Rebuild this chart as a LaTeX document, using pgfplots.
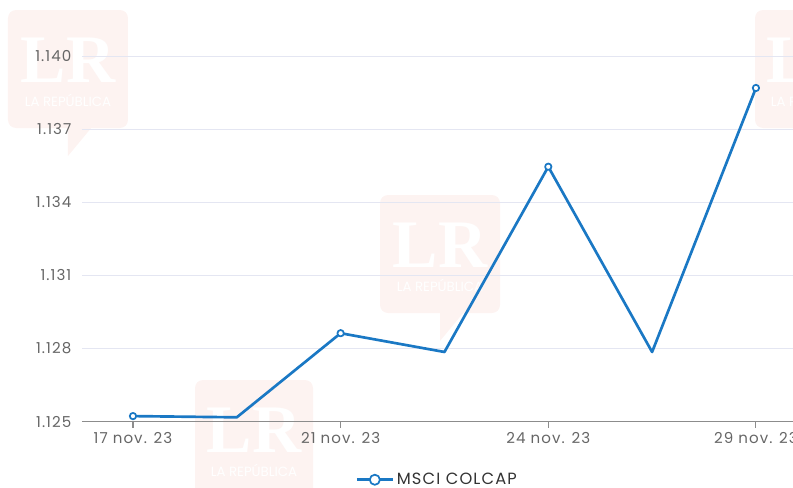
\documentclass[border=0pt]{standalone}
\usepackage{fontspec}
\setmainfont{Poppins}[LetterSpace=7]
\newfontfamily\lrfont{Liberation Serif}
\newfontfamily\wmfont{Poppins}
\usepackage{pgfplots}
\pgfplotsset{compat=1.18}
\definecolor{serie}{RGB}{26,120,196}
\definecolor{gridc}{RGB}{228,230,242}
\definecolor{axisgrey}{RGB}{140,140,140}
\definecolor{ticklab}{RGB}{102,102,102}
\definecolor{legtext}{RGB}{51,51,51}
\definecolor{wm}{RGB}{253,243,241}
\begin{document}
\begin{tikzpicture}
\useasboundingbox (-61.5pt,-49.025pt) rectangle (533.25pt,316.275pt);
\clip (-61.5pt,-49.025pt) rectangle (533.25pt,316.275pt);
\begin{scope}[x=0.75pt,y=-0.75pt,shift={(-82,-421.7)}]
  % watermark 1
  \fill[wm, rounded corners=6] (8,10) rectangle (128,128);
  \fill[wm] (68,127) -- (92,127) -- (68,156) -- cycle;
  \node[white, font=\lrfont\bfseries\fontsize{51}{51}\selectfont] at (68,60) {LR};
  \node[white, font=\wmfont\fontsize{10}{10}\selectfont] at (68,100) {LA REPÚBLICA};
  % watermark 2
  \fill[wm, rounded corners=6] (380,195) rectangle (500,313);
  \fill[wm] (440,312) -- (464,312) -- (440,341) -- cycle;
  \node[white, font=\lrfont\bfseries\fontsize{51}{51}\selectfont] at (440,245) {LR};
  \node[white, font=\wmfont\fontsize{10}{10}\selectfont] at (440,285) {LA REPÚBLICA};
  % watermark 3
  \fill[wm, rounded corners=6] (195,380) rectangle (313,498);
  \node[white, font=\lrfont\bfseries\fontsize{51}{51}\selectfont] at (254,430) {LR};
  \node[white, font=\wmfont\fontsize{10}{10}\selectfont] at (254,470) {LA REPÚBLICA};
  % watermark 4
  \fill[wm, rounded corners=6] (755,10) rectangle (873,128);
  \node[white, font=\lrfont\bfseries\fontsize{51}{51}\selectfont] at (814,60) {LR};
  \node[white, font=\wmfont\fontsize{10}{10}\selectfont] at (814,100) {LA REPÚBLICA};
\end{scope}
\begin{axis}[
  at={(0,0)}, anchor=south west,
  scale only axis, width=533.25pt, height=308.8pt,
  xmin=-0.491, xmax=6.357, ymin=1125, ymax=1141.89,
  axis lines=left,
  y axis line style={draw=none},
  x axis line style={draw=axisgrey, line width=0.9pt, -},
  ytick={1125,1128,1131,1134,1137,1140},
  ymajorgrids, grid style={draw=gridc, line width=0.8pt},
  xtick={0,2,4,6},
  xticklabels={17 nov. 23, 21 nov. 23, 24 nov. 23, 29 nov. 23},
  tick align=outside, major tick length=4.5pt,
  y tick style={draw=none},
  x tick style={draw=axisgrey, line width=0.8pt},
  /pgf/number format/assume math mode=true,
  ticklabel style={font=\fontsize{11.3}{13}\selectfont, text=ticklab},
  yticklabel style={/pgf/number format/1000 sep={.}},
  legend style={at={(0.5,-0.141)}, anchor=center, draw=none, fill=none,
    font=\fontsize{12.2}{14}\selectfont, text=legtext},
  legend image code/.code={\draw[mark repeat=2,mark phase=2,mark size=3.8pt] plot coordinates {(0pt,0pt) (13.5pt,0pt) (27pt,0pt)};},
]
\addplot[serie, line width=2pt, line join=round, mark=*, mark repeat=2,
  mark size=2.4pt, mark options={fill=white, draw=serie, line width=1.3pt}]
  coordinates {(0,1125.23) (1,1125.18) (2,1128.63) (3,1127.86) (4,1135.46) (5,1127.86) (6,1138.69)};
\addlegendentry{MSCI COLCAP}
\end{axis}
\end{tikzpicture}
\end{document}
